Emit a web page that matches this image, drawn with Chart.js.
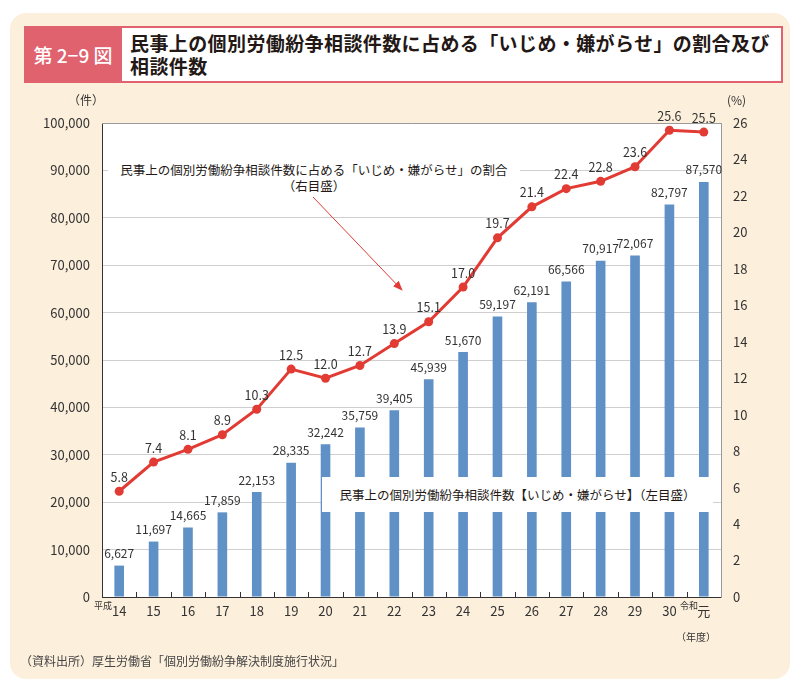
<!DOCTYPE html>
<html lang="ja">
<head>
<meta charset="utf-8">
<script src="https://cdn.jsdelivr.net/npm/chart.js@4/dist/chart.umd.min.js"></script>
<style>
  html, body { margin:0; padding:0; background:#fff; width:800px; height:689px; overflow:hidden; }
  body { position:relative; font-family:"Noto Sans CJK JP","Noto Sans",sans-serif; color:#231815; }
  .bg { position:absolute; left:10px; top:13px; width:780px; height:666px; background:#fcefdc; border-radius:16px; }
  .badge { position:absolute; left:24px; top:26px; width:98px; height:57px; background:#e0626f; color:#fff;
           font-size:19px; font-weight:500; display:flex; align-items:center; justify-content:center; }
  .titlebox { position:absolute; left:122px; top:26px; width:659px; height:53px; background:#fff; border:2px solid #e0626f; border-left:none; }
  .title { position:absolute; left:8px; top:3px; font-size:19px; font-weight:700; line-height:23px; letter-spacing:0.4px; }
  canvas#c { position:absolute; left:0; top:0; }
  .t { position:absolute; white-space:nowrap; }
  .box { position:absolute; background:#fff; text-align:center; font-size:12.5px; color:#231815; }
  svg { position:absolute; left:0; top:0; }
</style>
</head>
<body>
<div class="bg"></div>
<div class="badge">第 2−9 図</div>
<div class="titlebox"><div class="title">民事上の個別労働紛争相談件数に占める「いじめ・嫌がらせ」の割合及び<br>相談件数</div></div>
<canvas id="c" width="800" height="689"></canvas>
<div class="t" style="left:68px;top:91px;font-size:12px;color:#333;">（件）</div>
<div class="t" style="left:727px;top:91px;font-size:12px;color:#333;">(%)</div>
<div class="t" style="left:94px;top:599px;font-size:9px;color:#333;">平成</div>
<div class="t" style="left:680px;top:599px;font-size:9px;color:#333;">令和</div>
<div class="t" style="left:676px;top:629px;font-size:10px;color:#333;">（年度）</div>
<div class="box" style="left:108px;top:160px;width:412px;line-height:16px;padding:2px 0;">民事上の個別労働紛争相談件数に占める「いじめ・嫌がらせ」の割合<br>（右目盛）</div>
<div class="box" style="left:322px;top:477px;width:391px;height:35px;line-height:35px;">民事上の個別労働紛争相談件数【いじめ・嫌がらせ】（左目盛）</div>
<svg width="800" height="689">
  <defs><marker id="ah" markerWidth="10" markerHeight="10" refX="9" refY="5" orient="auto" markerUnits="userSpaceOnUse">
    <path d="M0,1 L10,5 L0,9 z" fill="#e23b34"/></marker></defs>
  <line x1="313" y1="197" x2="402" y2="290" stroke="#e23b34" stroke-width="1" marker-end="url(#ah)"/>
</svg>
<div class="t" style="left:20px;top:652px;font-size:12px;color:#444;">（資料出所）厚生労働省「個別労働紛争解決制度施行状況」</div>
<script>
const categories = ["14","15","16","17","18","19","20","21","22","23","24","25","26","27","28","29","30","元"];
const consultations = [6627,11697,14665,17859,22153,28335,32242,35759,39405,45939,51670,59197,62191,66566,70917,72067,82797,87570];
const sharePercent = [5.8,7.4,8.1,8.9,10.3,12.5,12.0,12.7,13.9,15.1,17.0,19.7,21.4,22.4,22.8,23.6,25.6,25.5];
const leftTicks = [0,10000,20000,30000,40000,50000,60000,70000,80000,90000,100000];
const rightTicks = [0,2,4,6,8,10,12,14,16,18,20,22,24,26];

const FONT = '"Noto Sans CJK JP","Noto Sans",sans-serif';
const TXT = '#333';

const plotBg = {
  id:'plotBg',
  beforeDraw(chart){
    const {ctx, chartArea:a} = chart;
    ctx.save(); ctx.fillStyle='#fff'; ctx.fillRect(a.left,a.top,a.right-a.left,a.bottom-a.top); ctx.restore();
  },
  afterDraw(chart){
    const {ctx, chartArea:a, scales} = chart;
    ctx.save();
    ctx.strokeStyle='#9a9a9a'; ctx.lineWidth=1;
    ctx.beginPath(); ctx.moveTo(a.left, a.top+0.5); ctx.lineTo(a.right, a.top+0.5); ctx.stroke();
    const x = scales.x;
    ctx.strokeStyle='#333';
    ctx.beginPath();
    for (let i=0;i<categories.length-1;i++){
      const p = Math.round((x.getPixelForValue(i)+x.getPixelForValue(i+1))/2)+0.5;
      ctx.moveTo(p, a.bottom); ctx.lineTo(p, a.bottom-5);
    }
    ctx.stroke();
    ctx.restore();
  }
};

const labels = {
  id:'labels',
  afterDatasetsDraw(chart){
    const {ctx} = chart;
    ctx.save();
    ctx.fillStyle = TXT; ctx.textAlign='center'; ctx.textBaseline='bottom';
    ctx.font = '12px '+FONT;
    chart.getDatasetMeta(1).data.forEach((b,i)=>{
      ctx.fillText(consultations[i].toLocaleString('en-US'), b.x, b.y-6);
    });
    ctx.font = '12.5px '+FONT;
    chart.getDatasetMeta(0).data.forEach((p,i)=>{
      ctx.fillText(sharePercent[i].toFixed(1), p.x, p.y-8);
    });
    ctx.restore();
  }
};

new Chart(document.getElementById('c'), {
  data: {
    labels: categories,
    datasets: [
      { type:'line', data: sharePercent, yAxisID:'y1', borderColor:'#e23b34', backgroundColor:'#e23b34',
        borderWidth:3, pointRadius:4.5, pointBackgroundColor:'#e23b34', pointBorderWidth:0, tension:0, order:0 },
      { type:'bar', data: consultations, yAxisID:'y', backgroundColor:'#5f90c6', barPercentage:0.28, categoryPercentage:1, order:1 }
    ]
  },
  options: {
    responsive:false, animation:false,
    layout:{ padding:{ top:123, left:0, right:0, bottom:0 } },
    plugins:{ legend:{display:false}, tooltip:{enabled:false} },
    scales:{
      x:{
        grid:{display:false, drawTicks:false},
        border:{display:true, color:'#333', width:1},
        ticks:{ font:{family:FONT, size:13}, color:TXT, padding:6, maxRotation:0, autoSkip:false },
        afterFit(s){ s.height = 92; }
      },
      y:{
        position:'left', min:0, max:100000,
        afterBuildTicks(s){ s.ticks = leftTicks.map(v=>({value:v})); },
        grid:{ color:'#cfcfcf', lineWidth:1, drawTicks:false },
        border:{display:true, color:'#333', width:1},
        ticks:{ font:{family:FONT, size:13}, color:TXT, padding:12, callback:v=>v.toLocaleString('en-US') },
        afterFit(s){ s.width = 102; }
      },
      y1:{
        position:'right', min:0, max:26,
        afterBuildTicks(s){ s.ticks = rightTicks.map(v=>({value:v})); },
        grid:{ display:false, drawTicks:false },
        border:{display:true, color:'#9a9a9a', width:1},
        ticks:{ font:{family:FONT, size:13}, color:TXT, padding:12 },
        afterFit(s){ s.width = 79; }
      }
    }
  },
  plugins:[plotBg, labels]
});
</script>
</body>
</html>
